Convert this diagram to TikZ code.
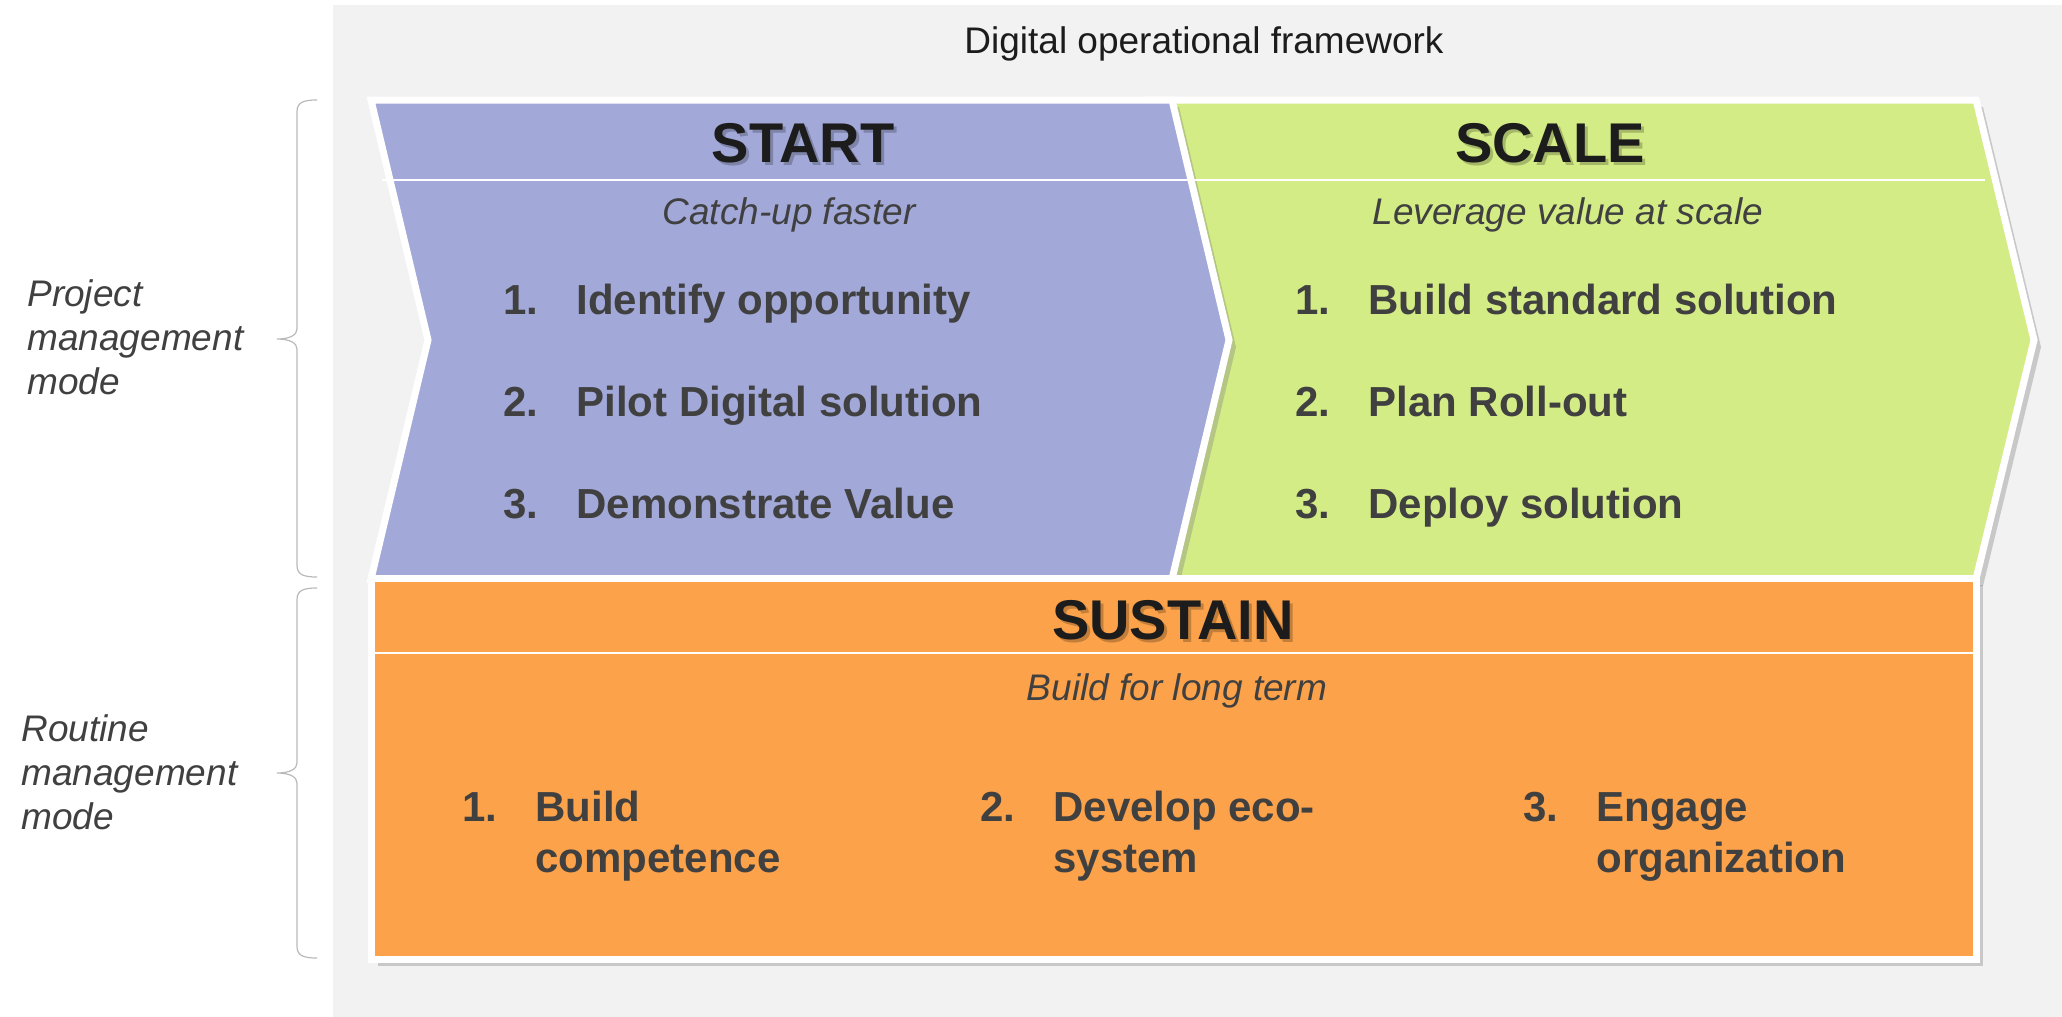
\documentclass[tikz,border=0pt]{standalone}
\usepackage{fontspec}
\setmainfont{Liberation Sans}
\usetikzlibrary{shadows}
\definecolor{startfill}{RGB}{162,168,216}
\definecolor{scalefill}{RGB}{212,236,134}
\definecolor{sustainfill}{RGB}{251,162,74}
\definecolor{panelgray}{RGB}{242,242,242}
\definecolor{bracegray}{RGB}{185,185,185}
\definecolor{itemtext}{RGB}{64,64,64}
\definecolor{headtext}{RGB}{28,28,28}
\newcommand{\stepitem}[2]{\makebox[36.5pt][l]{#1}#2}
\newcommand{\stepitemtwo}[3]{\begin{tabular}[t]{@{}l@{}l@{}}\makebox[36.5pt][l]{#1}&#2\\&#3\end{tabular}}

\begin{document}
\begin{tikzpicture}[x=0.5pt,y=-0.5pt]
	\tikzstyle{every node}+=[inner sep=0pt]
	\tikzstyle{phase}=[draw=white,line width=3.5pt,drop shadow={shadow xshift=3.5pt,shadow yshift=-3.5pt,opacity=0.36}]
	\tikzstyle{divider}=[white,line width=0.75pt]
	\tikzstyle{phasetitle}=[anchor=base,text=headtext,font=\fontsize{28}{33}\selectfont\bfseries]
	\tikzstyle{titleshadow}=[anchor=base,text=black,text opacity=0.22,font=\fontsize{28}{33}\selectfont\bfseries]
	\tikzstyle{motto}=[anchor=base,text=itemtext,font=\fontsize{18.5}{22}\selectfont\itshape]
	\tikzstyle{stepnode}=[anchor=base west,text=itemtext,font=\fontsize{21}{25.5}\selectfont\bfseries]
	\tikzstyle{modelabel}=[anchor=base west,text=itemtext,font=\fontsize{18.5}{22}\selectfont\itshape]
	\tikzstyle{modebrace}=[bracegray,line width=0.6pt]

	\useasboundingbox (0,0) rectangle (2062,1017);
	\fill[panelgray] (333,5) rectangle (2062,1017);
	\node[anchor=base,text=headtext,font=\fontsize{18.5}{22}\selectfont] (framework) at (1204,54) {Digital operational framework};

	\draw[phase,fill=scalefill] (1150,100) -- (1976,100) -- (2034,340) -- (1976,579) -- (1150,579) -- (1207,340) -- cycle;
	\draw[phase,fill=startfill] (371,100) -- (1172,100) -- (1229,340) -- (1172,579) -- (371,579) -- (428,340) -- cycle;
	\draw[phase,fill=sustainfill] (371,578) rectangle (1976,959);
	\draw[divider] (382,180) -- (1985,180);
	\draw[divider] (374,653) -- (1973,653);

	\node[titleshadow] (startsh) at (806,165) {START};
	\node[phasetitle] (start) at (803,162) {START};
	\node[titleshadow] (scalesh) at (1553,165) {SCALE};
	\node[phasetitle] (scale) at (1550,162) {SCALE};
	\node[titleshadow] (sustainsh) at (1176,642) {SUSTAIN};
	\node[phasetitle] (sustain) at (1173,639) {SUSTAIN};

	\node[motto] (startmotto) at (789,224) {Catch-up faster};
	\node[motto] (scalemotto) at (1568,224) {Leverage value at scale};
	\node[motto] (sustainmotto) at (1177,700) {Build for long term};

	\node[stepnode] (start1) at (503,314) {\stepitem{1.}{Identify opportunity}};
	\node[stepnode] (start2) at (503,416) {\stepitem{2.}{Pilot Digital solution}};
	\node[stepnode] (start3) at (503,518) {\stepitem{3.}{Demonstrate Value}};
	\node[stepnode] (scale1) at (1295,314) {\stepitem{1.}{Build standard solution}};
	\node[stepnode] (scale2) at (1295,416) {\stepitem{2.}{Plan Roll-out}};
	\node[stepnode] (scale3) at (1295,518) {\stepitem{3.}{Deploy solution}};
	\node[stepnode] (sustain1) at (462,821) {\stepitemtwo{1.}{Build}{competence}};
	\node[stepnode] (sustain2) at (980,821) {\stepitemtwo{2.}{Develop eco-}{system}};
	\node[stepnode] (sustain3) at (1523,821) {\stepitemtwo{3.}{Engage}{organization}};

	\coordinate (projtop) at (317,100);
	\coordinate (projtip) at (277,339);
	\coordinate (projbot) at (317,577);
	\coordinate (routtop) at (317,588);
	\coordinate (routtip) at (277,773);
	\coordinate (routbot) at (317,958);
	\draw[modebrace] (projtop) .. controls (302,100) and (297,103) .. (297,112) -- (297,329) .. controls (297,335) and (290,339) .. (projtip) .. controls (290,339) and (297,343) .. (297,349) -- (297,565) .. controls (297,574) and (302,577) .. (projbot);
	\draw[modebrace] (routtop) .. controls (302,588) and (297,591) .. (297,600) -- (297,763) .. controls (297,769) and (290,773) .. (routtip) .. controls (290,773) and (297,777) .. (297,783) -- (297,946) .. controls (297,955) and (302,958) .. (routbot);
	\node[modelabel] (projmode) at (27,306) {\begin{tabular}[t]{@{}l@{}}Project\\management\\mode\end{tabular}};
	\node[modelabel] (routmode) at (21,741) {\begin{tabular}[t]{@{}l@{}}Routine\\management\\mode\end{tabular}};
\end{tikzpicture}
\end{document}
